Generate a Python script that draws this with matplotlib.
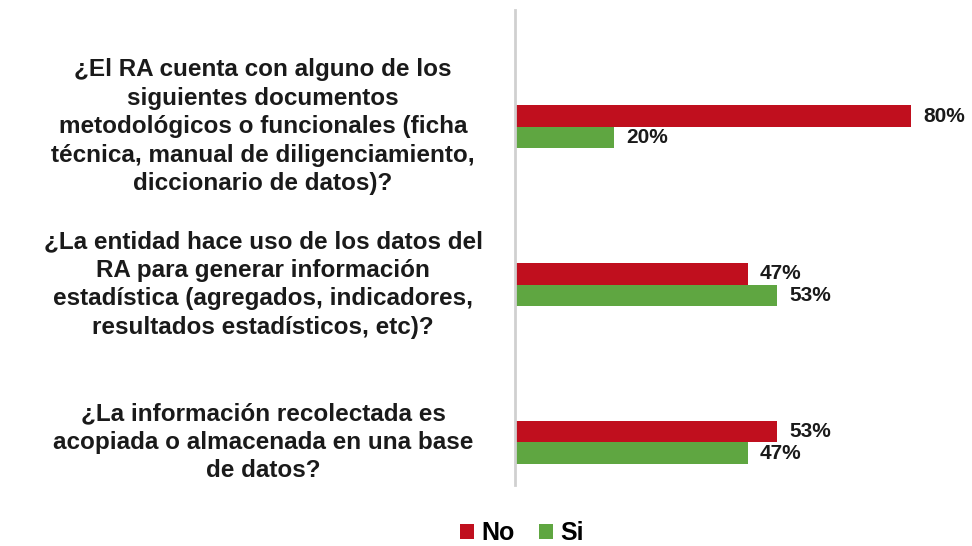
import matplotlib.pyplot as plt
import matplotlib.transforms as mtransforms
import numpy as np

plt.rcParams['font.family'] = ['Liberation Sans', 'DejaVu Sans']

questions = [
    "¿El RA cuenta con alguno de los\nsiguientes documentos\nmetodológicos o funcionales (ficha\ntécnica, manual de diligenciamiento,\ndiccionario de datos)?",
    "¿La entidad hace uso de los datos del\nRA para generar información\nestadística (agregados, indicadores,\nresultados estadísticos, etc)?",
    "¿La información recolectada es\nacopiada o almacenada en una base\nde datos?",
]
no_values = [80, 47, 53]
si_values = [20, 53, 47]
series_names = ["No", "Si"]
colors = ["#C00F1E", "#5FA641"]

fig = plt.figure(figsize=(9.72, 5.46), dpi=100)
ax = fig.add_axes([515 / 972, 1 - 485 / 546, 1 - 515 / 972, 475 / 546])

y = np.arange(len(questions))
h = 0.135

bars_no = ax.barh(y - h / 2, no_values, height=h, color=colors[0], label=series_names[0])
bars_si = ax.barh(y + h / 2, si_values, height=h, color=colors[1], label=series_names[1])

for bars in (bars_no, bars_si):
    for b in bars:
        v = b.get_width()
        ax.text(v + 2.4, b.get_y() + b.get_height() / 2, f"{v:.0f}%",
                va="center", ha="left", fontsize=15, fontweight="bold",
                color="#1a1a1a")

ax.set_xlim(0, 92.3)
ax.set_ylim(2.27, -0.74)

for s in ["top", "right", "bottom"]:
    ax.spines[s].set_visible(False)
ax.spines["left"].set_color("#d0d0d0")
ax.spines["left"].set_linewidth(2)
ax.set_xticks([])
ax.set_yticks([])

label_tr = mtransforms.blended_transform_factory(fig.transFigure, ax.transData)
for yi, q in zip(y, questions):
    ax.text(263 / 972, yi, q, transform=label_tr, ha="center", va="center",
            fontsize=17.5, fontweight="bold", color="#1a1a1a",
            multialignment="center", linespacing=1.3)

fig.legend(handles=[bars_no, bars_si], labels=series_names, loc="center",
           bbox_to_anchor=(522 / 972, 1 - 533 / 546), ncol=2, frameon=False,
           prop={"size": 18, "weight": "bold"}, handlelength=0.55, handleheight=0.55,
           handletextpad=0.3, columnspacing=1.0)

fig.savefig("out.png", dpi=100)
